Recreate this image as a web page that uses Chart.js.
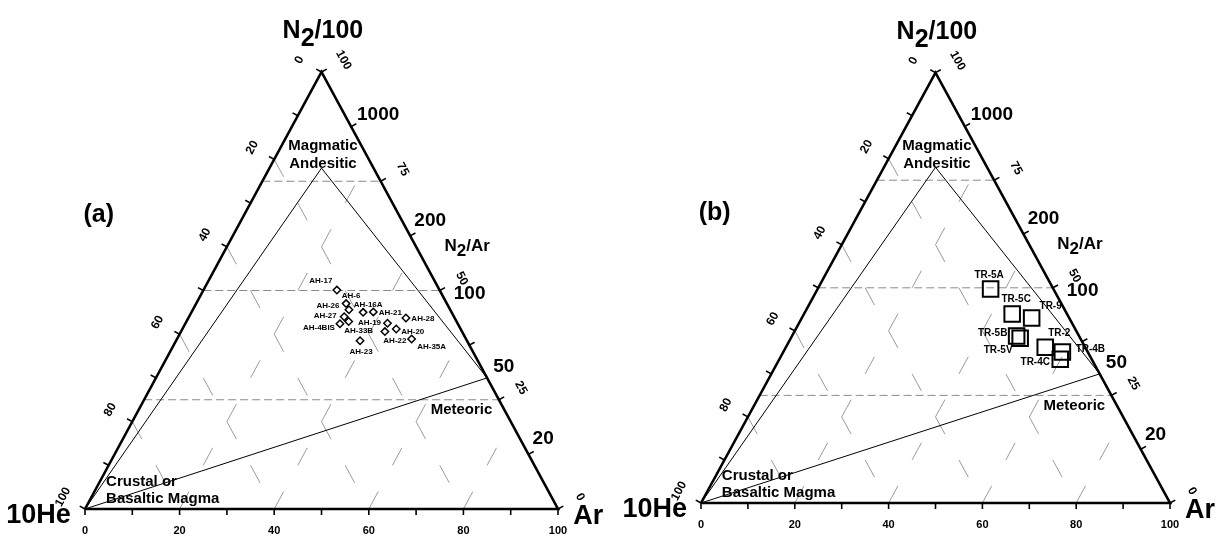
<!DOCTYPE html>
<html lang="en">
<head>
<meta charset="utf-8">
<title>N2/100 - 10He - Ar ternary diagrams</title>
<script src="https://cdn.jsdelivr.net/npm/chart.js@4.4.1/dist/chart.umd.min.js"></script>
<style>
  html, body { margin: 0; padding: 0; background: #fff; }
  .panel { position: absolute; top: 0; }
</style>
</head>
<body>
<canvas id="panel-a" class="panel" style="left:0" width="610" height="539"></canvas>
<canvas id="panel-b" class="panel" style="left:610px" width="610" height="539"></canvas>
<script>
// ---- samples, relative % (10He, N2/100, Ar) ----
const samplesA = ['AH-17', 'AH-6', 'AH-26', 'AH-16A', 'AH-21', 'AH-27', 'AH-33B',
                  'AH-4BIS', 'AH-19', 'AH-28', 'AH-20', 'AH-22', 'AH-35A', 'AH-23'];
const heA = [21.7, 21.3, 21.4, 18.7, 16.5, 23.2, 22.8, 24.9, 14.8, 10.3, 13.6, 16.3, 11.5, 22.6];
const n2A = [50.1, 47.0, 45.6, 45.0, 45.1, 44.0, 42.9, 42.4, 42.5, 43.7, 41.2, 40.6, 38.9, 38.5];
const arA = [28.2, 31.7, 33.0, 36.3, 38.4, 32.8, 34.3, 32.7, 42.7, 46.0, 45.2, 43.1, 49.6, 38.9];

const samplesB = ['TR-5A', 'TR-5C', 'TR-9', 'TR-5B', 'TR-5V', 'TR-2', 'TR-4B', 'TR-4C'];
const heB = [13.4, 11.7, 8.0, 13.3, 12.8, 8.5, 5.4, 6.7];
const n2B = [49.7, 43.9, 43.0, 38.8, 38.3, 36.2, 35.1, 33.4];
const arB = [36.9, 44.4, 49.0, 47.9, 48.9, 55.3, 59.5, 59.9];

// reference end-members (10He, N2/100, Ar)
const crustal = [100, 0, 0];
const andesitic = [11, 78, 11];
const meteoric = [0, 30, 70];

// axes
const arTicks = [0, 10, 20, 30, 40, 50, 60, 70, 80, 90, 100];
const arTickLabels = [0, 20, 40, 60, 80, 100];
const heTicks = [0, 10, 20, 30, 40, 50, 60, 70, 80, 90, 100];
const heTickLabels = [0, 20, 40, 60, 80, 100];
const n2Ticks = [0, 12.5, 25, 37.5, 50, 62.5, 75, 87.5, 100];
const n2TickLabels = [0, 25, 50, 75, 100];
const n2ArRatios = [1000, 200, 100, 50, 20];
const n2GridLevels = [25, 50, 75];
const diagGridLevels = [20, 40, 60, 80];

// label placement (pixels from the marker)
const labelOffsetA = [[-16, -9], [5, -7.6], [-21, -3.6], [5, -8], [17, 0.4], [-19, -1.3], [10, 9.7],
                      [-21, 4], [-18, -0.4], [17, 0.7], [16.5, 2.4], [10, 9.7], [20, 7.4], [1, 10.7]];
const labelOffsetB = [[-1.5, -14], [4, -15], [19, -12], [-24, -3], [-22, 12.5], [14, -13.5], [28, -2.7], [-25, 3.2]];

const W = 610, H = 539;
const FONT = '"Liberation Sans", Arial, sans-serif';

function toXY(he, n2, ar) {
    const t = he + n2 + ar;
    return { x: 100 * (ar + n2 / 2) / t, y: 100 * n2 / t };
}

function drawText(ctx, str, x, y, size, align, rot) {
    ctx.save();
    ctx.translate(x, y);
    if (rot) ctx.rotate(rot);
    ctx.font = `bold ${size}px ${FONT}`;
    ctx.textAlign = align || 'center';
    ctx.textBaseline = 'middle';
    ctx.fillStyle = '#000';
    ctx.fillText(str, 0, 0);
    ctx.restore();
}

// "N2/Ar" style text with lowered 2
function drawFormula(ctx, parts, x, y, size) {
    ctx.save();
    ctx.font = `bold ${size}px ${FONT}`;
    ctx.textBaseline = 'middle';
    ctx.textAlign = 'left';
    ctx.fillStyle = '#000';
    const total = parts.reduce((s, p) => s + ctx.measureText(p[0]).width, 0);
    let cx = x - total / 2;
    parts.forEach(p => {
        ctx.fillText(p[0], cx, y + (p[1] ? size * 0.3 : 0));
        cx += ctx.measureText(p[0]).width;
    });
    ctx.restore();
}

const ternaryDecor = {
    id: 'ternaryDecor',
    afterDatasetsDraw(chart, args, opts) {
        const { ctx } = chart;
        const xs = chart.scales.x, ys = chart.scales.y;
        const PX = (X, Y) => [xs.getPixelForValue(X), ys.getPixelForValue(Y)];
        const P = (he, n2, ar) => { const c = toXY(he, n2, ar); return PX(c.x, c.y); };

        const L = P(100, 0, 0), R = P(0, 0, 100), T = P(0, 100, 0);
        const outward = (a, b, o) => {
            const dx = b[0] - a[0], dy = b[1] - a[1], len = Math.hypot(dx, dy);
            let nx = -dy / len, ny = dx / len;
            if (nx * ((a[0] + b[0]) / 2 - o[0]) + ny * ((a[1] + b[1]) / 2 - o[1]) < 0) { nx = -nx; ny = -ny; }
            return [nx, ny];
        };
        const nBase = outward(L, R, T), nLeft = outward(L, T, R), nRight = outward(R, T, L);
        const angLeft = Math.atan2(T[1] - L[1], T[0] - L[0]);
        const angRight = Math.atan2(R[1] - T[1], R[0] - T[0]);

        // ticks
        ctx.save();
        ctx.strokeStyle = '#000';
        ctx.lineWidth = 1.6;
        const tick = (p, n) => {
            ctx.beginPath();
            ctx.moveTo(p[0], p[1]);
            ctx.lineTo(p[0] + n[0] * 6, p[1] + n[1] * 6);
            ctx.stroke();
        };
        arTicks.forEach(v => tick(P(100 - v, 0, v), nBase));
        heTicks.forEach(v => tick(P(v, 100 - v, 0), nLeft));
        n2Ticks.forEach(v => tick(P(0, v, 100 - v), nRight));
        ctx.restore();

        // tick labels
        arTickLabels.forEach(v => {
            const p = P(100 - v, 0, v);
            drawText(ctx, String(v), p[0], p[1] + 22, 11);
        });
        heTickLabels.forEach(v => {
            const p = P(v, 100 - v, 0);
            drawText(ctx, String(v), p[0] + nLeft[0] * 25, p[1] + nLeft[1] * 25, 12, 'center', angLeft);
        });
        n2TickLabels.forEach(v => {
            const p = P(0, v, 100 - v);
            drawText(ctx, String(v), p[0] + nRight[0] * 25, p[1] + nRight[1] * 25, 12, 'center', angRight);
        });
        n2ArRatios.forEach(r => {
            const n = 100 * r / (r + 100);
            const p = P(0, n, 100 - n);
            drawText(ctx, String(r), p[0] + 14, p[1] + 3, 19, 'left');
        });

        // titles and field names
        let q = PX(50.3, 109.3);
        drawFormula(ctx, [['N', 0], ['2', 1], ['/100', 0]], q[0], q[1], 25);
        q = PX(80.8, 60.2);
        drawFormula(ctx, [['N', 0], ['2', 1], ['/Ar', 0]], q[0], q[1], 17);
        q = PX(2.9, 67.3);
        drawText(ctx, opts.panel, q[0], q[1], 25);
        q = PX(50.3, 83);
        drawText(ctx, 'Magmatic', q[0], q[1], 15);
        q = PX(50.3, 78.9);
        drawText(ctx, 'Andesitic', q[0], q[1], 15);
        q = PX(79.6, 22.6);
        drawText(ctx, 'Meteoric', q[0], q[1], 15);
        q = PX(4.45, 6.3);
        drawText(ctx, 'Crustal or', q[0], q[1], 15, 'left');
        q = PX(4.45, 2.3);
        drawText(ctx, 'Basaltic Magma', q[0], q[1], 15, 'left');
        q = PX(-3, -1.5);
        drawText(ctx, '10He', q[0], q[1], 27, 'right');
        q = PX(103.2, -1.8);
        drawText(ctx, 'Ar', q[0], q[1], 27, 'left');

        // sample labels
        const meta = chart.getDatasetMeta(0);
        meta.data.forEach((pt, i) => {
            const off = opts.offsets[i];
            drawText(ctx, opts.names[i], pt.x + off[0], pt.y + off[1], opts.labelSize);
        });
    }
};

function buildPanel(canvasId, panel, frame, names, he, n2, ar, marker, offsets) {
    const kx = (frame.right - frame.left) / 100;
    const ky = (frame.base - frame.top) / 100;
    const unit = Math.hypot(0.5 * kx, ky);
    const seg = (a, b) => [toXY(...a), toXY(...b)];
    const line = (pts, color, width, dash) => ({
        data: pts, showLine: true, borderColor: color, borderWidth: width,
        borderDash: dash || [], pointRadius: 0, fill: false, tension: 0, clip: false
    });

    const datasets = [{
        data: names.map((n, i) => toXY(he[i], n2[i], ar[i])),
        showLine: false,
        pointStyle: marker.style,
        pointRadius: marker.radius,
        borderWidth: marker.width,
        borderColor: '#000',
        backgroundColor: marker.fill,
        clip: false
    }];

    // triangle frame
    datasets.push(line([toXY(100, 0, 0), toXY(0, 0, 100), toXY(0, 100, 0), toXY(100, 0, 0)], '#000', 2.6));
    // reference field lines
    datasets.push(line([toXY(...crustal), toXY(...andesitic), toXY(...meteoric)], '#000', 1));
    datasets.push(line(seg(crustal, meteoric), '#000', 1));
    // horizontal dashed N2 levels
    n2GridLevels.forEach(v => datasets.push(line(seg([100 - v, v, 0], [0, v, 100 - v]), '#8a8a8a', 1, [8, 4])));
    // sparse dashed Ar and He levels
    diagGridLevels.forEach(v => {
        datasets.push(line(seg([100 - v, 0, v], [0, 100 - v, v]), '#9a9a9a', 1, [4 * unit, 6 * unit]));
        datasets.push(line(seg([v, 100 - v, 0], [v, 0, 100 - v]), '#9a9a9a', 1, [4 * unit, 6 * unit]));
    });

    return new Chart(document.getElementById(canvasId), {
        type: 'scatter',
        data: { datasets },
        options: {
            responsive: false,
            animation: false,
            events: [],
            layout: { padding: 0, autoPadding: false },
            plugins: {
                legend: { display: false },
                tooltip: { enabled: false },
                ternaryDecor: { panel, names, offsets, labelSize: marker.labelSize }
            },
            scales: {
                x: { type: 'linear', display: false, min: -frame.left / kx, max: (W - frame.left) / kx },
                y: { type: 'linear', display: false, min: -(H - frame.base) / ky, max: frame.base / ky }
            }
        },
        plugins: [ternaryDecor]
    });
}

buildPanel('panel-a', '(a)', { left: 85, right: 558, base: 509, top: 72 },
    samplesA, heA, n2A, arA,
    { style: 'rectRot', radius: 3.7, width: 1.5, fill: '#fff', labelSize: 8 }, labelOffsetA);

buildPanel('panel-b', '(b)', { left: 91, right: 560, base: 503, top: 72.6 },
    samplesB, heB, n2B, arB,
    { style: 'rect', radius: 11, width: 2, fill: 'rgba(0,0,0,0)', labelSize: 10 }, labelOffsetB);
</script>
</body>
</html>
